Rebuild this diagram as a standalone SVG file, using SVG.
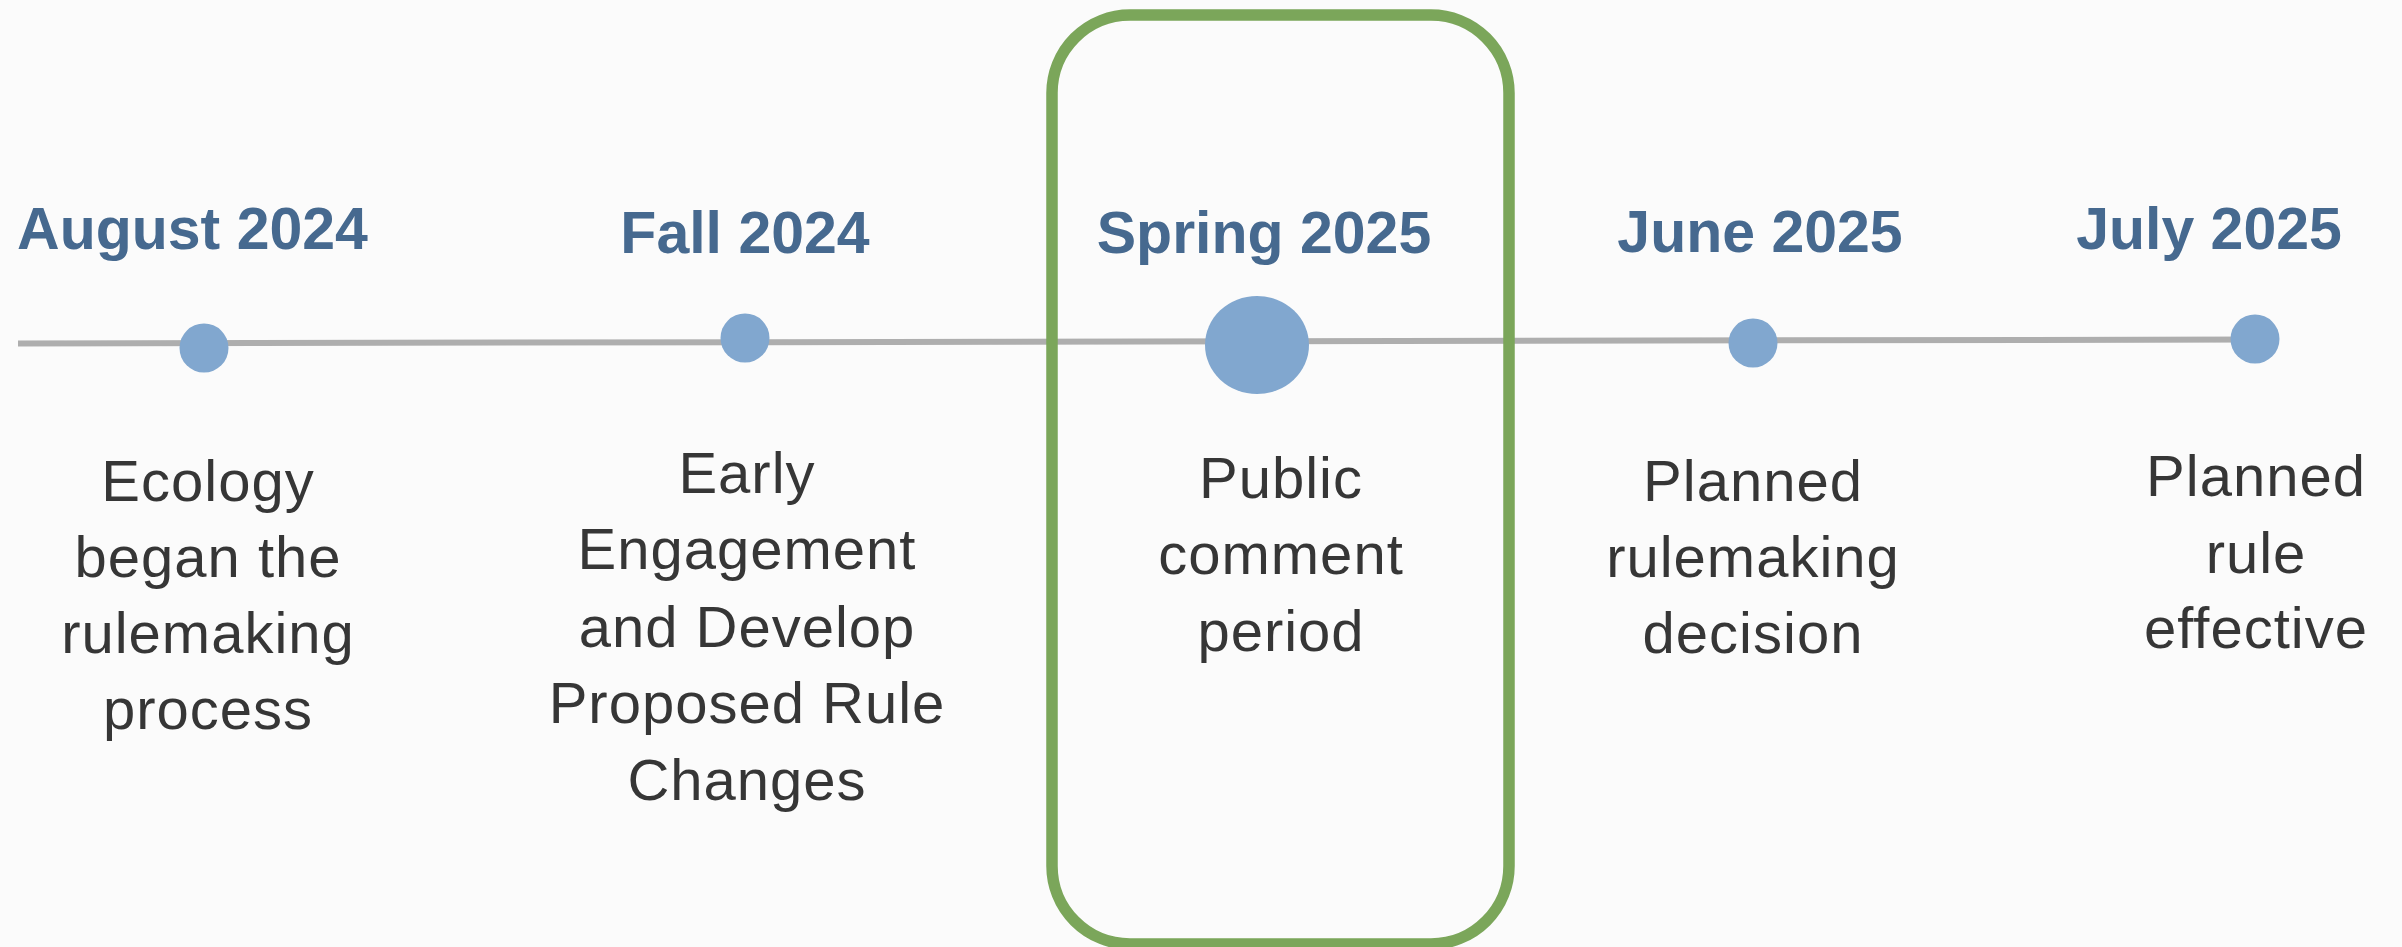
<svg xmlns="http://www.w3.org/2000/svg" width="2402" height="947" viewBox="0 0 2402 947">
<style>
.date{font-family:"Liberation Sans",Arial,sans-serif;font-weight:bold;font-size:59px;fill:#46698F;text-anchor:middle}
.body{font-family:"Liberation Sans",Arial,sans-serif;font-size:58px;fill:#363636;text-anchor:middle;letter-spacing:1px}
.dot{fill:#81A7CF}
</style>
<rect x="0" y="0" width="2402" height="947" fill="#FBFBFB"/>
<g id="connectors">
<line x1="18" y1="343.5" x2="2255" y2="339.5" stroke="#AEAEAE" stroke-width="6"/>
</g>
<g id="node-aug2024">
<text class="date" x="192.5" y="249">August 2024</text>
<circle class="dot" cx="204" cy="348" r="24.5"/>
<text class="body" x="208" y="501">Ecology</text>
<text class="body" x="208" y="577">began the</text>
<text class="body" x="208" y="653">rulemaking</text>
<text class="body" x="208" y="729">process</text>
</g>
<g id="node-fall2024">
<text class="date" x="745" y="253">Fall 2024</text>
<circle class="dot" cx="745" cy="338" r="24.5"/>
<text class="body" x="747" y="493">Early</text>
<text class="body" x="747" y="569">Engagement</text>
<text class="body" x="747" y="647">and Develop</text>
<text class="body" x="747" y="723">Proposed Rule</text>
<text class="body" x="747" y="800">Changes</text>
</g>
<g id="node-spring2025">
<rect x="1052" y="15" width="457" height="929" rx="78" ry="78" fill="none" stroke="#7BA65A" stroke-width="11.5"/>
<text class="date" x="1264" y="253">Spring 2025</text>
<ellipse class="dot" cx="1257" cy="345" rx="52" ry="49"/>
<text class="body" x="1281" y="498">Public</text>
<text class="body" x="1281" y="574">comment</text>
<text class="body" x="1281" y="651">period</text>
</g>
<g id="node-june2025">
<text class="date" x="1760" y="252">June 2025</text>
<circle class="dot" cx="1753" cy="343" r="24.5"/>
<text class="body" x="1753" y="501">Planned</text>
<text class="body" x="1753" y="577">rulemaking</text>
<text class="body" x="1753" y="653">decision</text>
</g>
<g id="node-july2025">
<text class="date" x="2209" y="249">July 2025</text>
<circle class="dot" cx="2255" cy="339" r="24.5"/>
<text class="body" x="2256" y="496">Planned</text>
<text class="body" x="2256" y="573">rule</text>
<text class="body" x="2256" y="648">effective</text>
</g>
</svg>
